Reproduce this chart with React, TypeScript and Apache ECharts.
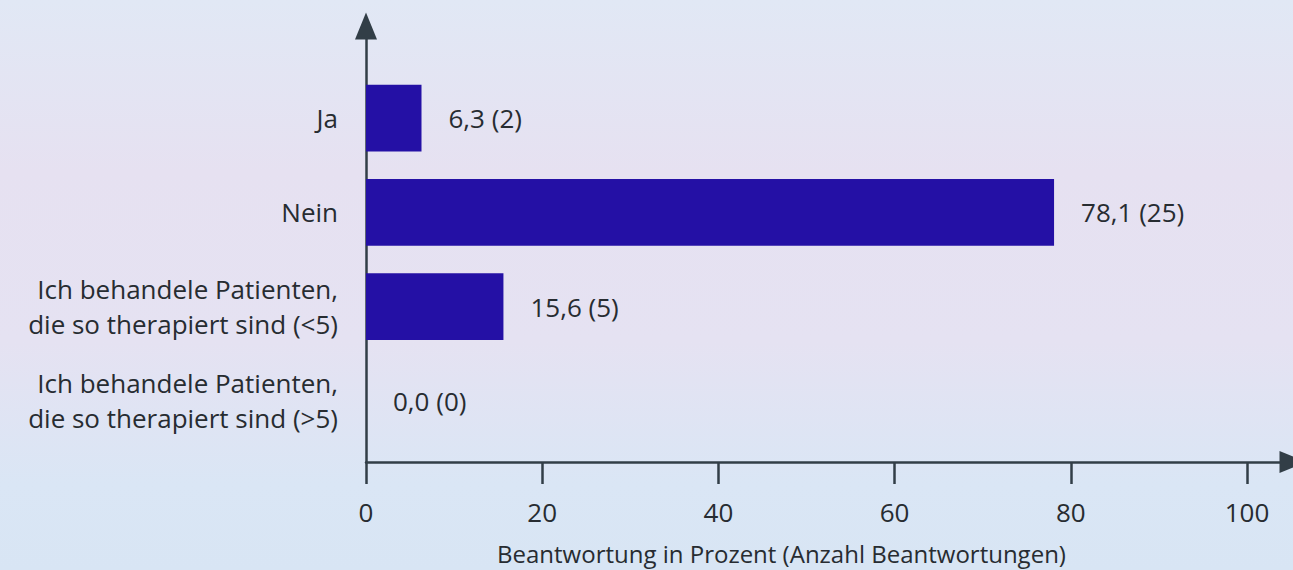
import React, { useEffect, useRef } from "react";
import * as echarts from "echarts";

const categories = [
  "Ja",
  "Nein",
  "Ich behandele Patienten,\ndie so therapiert sind (<5)",
  "Ich behandele Patienten,\ndie so therapiert sind (>5)",
];
const percentages = [6.3, 78.1, 15.6, 0.0];
const counts = [2, 25, 5, 0];
const xMin = 0;
const xMax = 100;
const xInterval = 20;
const axisTitle = "Beantwortung in Prozent (Anzahl Beantwortungen)";

const FONT = "Open Sans";
const TEXT = "#272c31";
const AXIS = "#323e47";
const BAR = "#2410a5";

export default function App() {
  const ref = useRef<HTMLDivElement>(null);
  useEffect(() => {
    if (!ref.current) return;
    const chart = echarts.init(ref.current, undefined, { renderer: "svg" });
    const option: any = {
      animation: false,
      backgroundColor: new echarts.graphic.LinearGradient(0, 0, 0, 1, [
        { offset: 0, color: "#e1e8f5" },
        { offset: 0.3, color: "#e6e1f1" },
        { offset: 0.6, color: "#e5e2f2" },
        { offset: 0.85, color: "#dae6f5" },
        { offset: 1, color: "#d8e5f4" },
      ]),
      textStyle: { fontFamily: FONT },
      title: {
        text: axisTitle,
        left: 492,
        top: 536,
        textStyle: { fontFamily: FONT, fontSize: 24, fontWeight: "normal", color: TEXT },
      },
      grid: [
        { left: 366, right: 0, top: 26, bottom: 108 },
        { left: 366, right: 46, top: 71, bottom: 122 },
      ],
      xAxis: [
        {
          gridIndex: 0,
          type: "value",
          min: 0,
          max: 1,
          axisLine: {
            show: true,
            symbol: ["none", "triangle"],
            symbolSize: [22, 27],
            lineStyle: { color: AXIS, width: 2.5 },
          },
          axisTick: { show: false },
          axisLabel: { show: false },
          splitLine: { show: false },
        },
        {
          gridIndex: 1,
          type: "value",
          min: xMin,
          max: xMax,
          interval: xInterval,
          offset: 14,
          axisLine: { show: false },
          axisTick: { show: true, length: 22, lineStyle: { color: AXIS, width: 2.5 } },
          axisLabel: { margin: 37, fontSize: 26, color: TEXT, fontFamily: FONT },
          splitLine: { show: false },
        },
      ],
      yAxis: [
        {
          gridIndex: 0,
          type: "value",
          min: 0,
          max: 1,
          axisLine: {
            show: true,
            symbol: ["none", "triangle"],
            symbolSize: [22, 27],
            lineStyle: { color: AXIS, width: 2.5 },
          },
          axisTick: { show: false },
          axisLabel: { show: false },
          splitLine: { show: false },
        },
        {
          gridIndex: 1,
          type: "category",
          inverse: true,
          data: categories,
          axisLine: { show: false },
          axisTick: { show: false },
          axisLabel: {
            margin: 28,
            fontSize: 26,
            lineHeight: 35,
            color: TEXT,
            fontFamily: FONT,
            align: "right",
          },
        },
      ],
      series: [
        {
          type: "bar",
          xAxisIndex: 1,
          yAxisIndex: 1,
          data: percentages,
          barCategoryGap: "29%",
          itemStyle: { color: BAR },
          label: {
            show: true,
            position: "right",
            distance: 27,
            fontSize: 26,
            color: TEXT,
            fontFamily: FONT,
            formatter: (p: any) =>
              `${percentages[p.dataIndex].toFixed(1).replace(".", ",")} (${counts[p.dataIndex]})`,
          },
        },
      ],
    };
    chart.setOption(option);
    return () => chart.dispose();
  }, []);
  return (
    <div
      ref={ref}
      style={{ position: "fixed", left: 0, top: 0, width: 1293, height: 570 }}
    />
  );
}
